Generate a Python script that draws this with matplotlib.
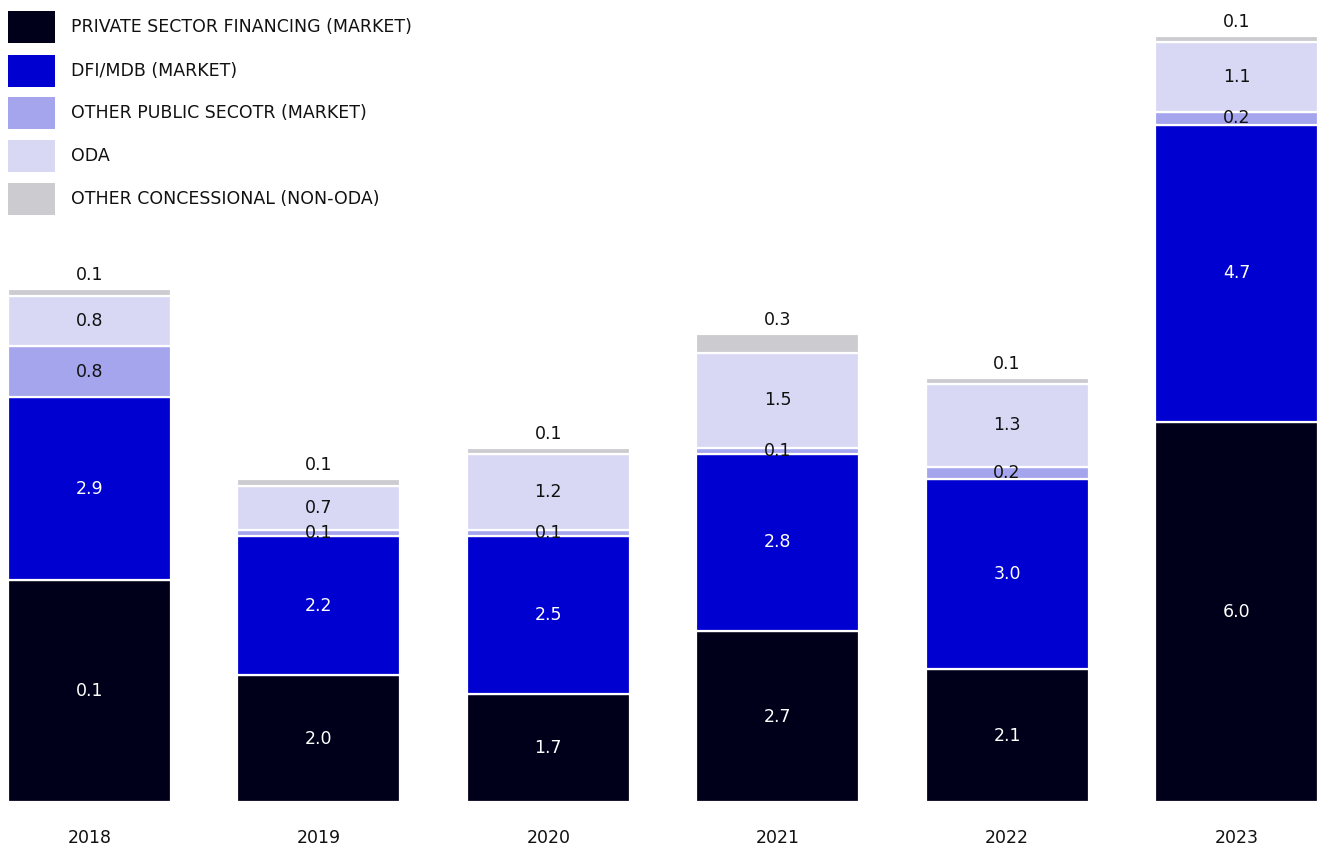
import matplotlib.pyplot as plt
from matplotlib.patches import Rectangle

years = ["2018", "2019", "2020", "2021", "2022", "2023"]

private_sector = [3.5, 2.0, 1.7, 2.7, 2.1, 6.0]
dfi_mdb = [2.9, 2.2, 2.5, 2.8, 3.0, 4.7]
other_public = [0.8, 0.1, 0.1, 0.1, 0.2, 0.2]
oda = [0.8, 0.7, 1.2, 1.5, 1.3, 1.1]
other_concessional = [0.1, 0.1, 0.1, 0.3, 0.1, 0.1]

# printed label for the private sector segment (2018 is printed as 0.1 in the source)
private_labels = ["0.1", "2.0", "1.7", "2.7", "2.1", "6.0"]

series_names = [
    "PRIVATE SECTOR FINANCING (MARKET)",
    "DFI/MDB (MARKET)",
    "OTHER PUBLIC SECOTR (MARKET)",
    "ODA",
    "OTHER CONCESSIONAL (NON-ODA)",
]
colores = ["#00001a", "#0000d0", "#a5a5ee", "#d8d8f5", "#cbcbd0"]
colores_texto = ["white", "white", "#111111", "#111111", "#111111"]

FUENTE = "DejaVu Sans"
TAM = 12.5


def main():
    fig = plt.figure(figsize=(13.2, 8.49), dpi=100)
    ax = fig.add_axes([0, 47 / 849, 1, 802 / 849])

    series = [private_sector, dfi_mdb, other_public, oda, other_concessional]
    x = list(range(len(years)))
    ancho = 0.71
    base = [0.0] * len(years)

    for k, valores in enumerate(series):
        ax.bar(x, valores, ancho, bottom=base, color=colores[k],
               edgecolor="white", linewidth=1.6)
        for i, v in enumerate(valores):
            if k == 0:
                texto = private_labels[i]
            else:
                texto = f"{v:.1f}"
            if k == len(series) - 1:
                y = base[i] + v + 0.22
            else:
                y = base[i] + v / 2
            ax.text(i, y, texto, ha="center", va="center", fontsize=TAM,
                    color=colores_texto[k], family=FUENTE)
        base = [b + v for b, v in zip(base, valores)]

    ax.set_xlim(-0.39, 5.364)
    ax.set_ylim(0, 12.67)
    ax.axis("off")

    for i, anio in enumerate(years):
        ax.text(i, -0.57, anio, ha="center", va="center", fontsize=TAM,
                color="#111111", family=FUENTE)

    # leyenda dibujada a mano en coordenadas de figura (pixeles)
    filas_y = [27, 71, 113, 156, 199]
    for k, nombre in enumerate(series_names):
        yc = 849 - filas_y[k]
        fig.add_artist(Rectangle((8 / 1320, (yc - 16) / 849), 47 / 1320, 32 / 849,
                                 transform=fig.transFigure, facecolor=colores[k],
                                 edgecolor="none"))
        fig.text(71 / 1320, yc / 849, nombre, ha="left", va="center",
                 fontsize=TAM, color="#111111", family=FUENTE)

    fig.savefig("out.png", dpi=100)
    plt.close(fig)


if __name__ == "__main__":
    main()
